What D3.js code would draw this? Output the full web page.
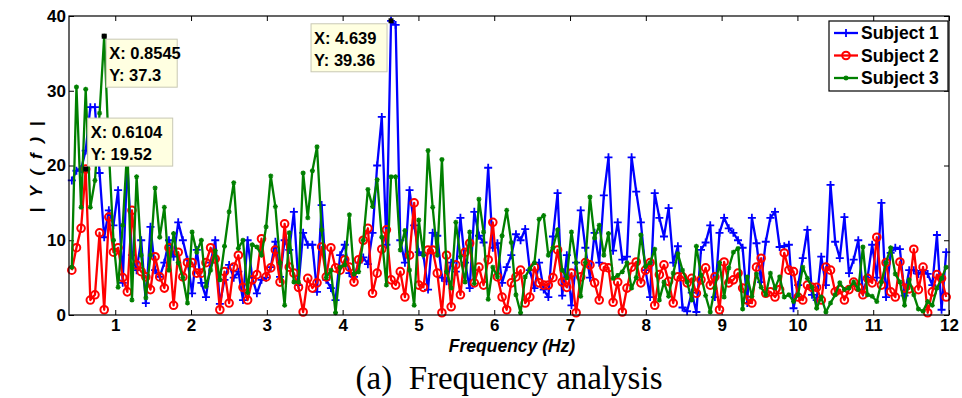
<!DOCTYPE html>
<html>
<head>
<meta charset="utf-8">
<script src="https://cdn.jsdelivr.net/npm/d3@7"></script>
<style>
  body { margin: 0; background: #fff; }
  svg text { font-family: "Liberation Sans", Arial, sans-serif; }
</style>
</head>
<body>
<div class="chart"></div>
<script>
// FFT bins: frequency = (firstBin + i) * binWidth
const binWidth = 0.0610352;
const firstBin = 7;

const seriesNames = ['Subject 1', 'Subject 2', 'Subject 3'];

const subject1 = [
  18, 19.3, 19.5, 22, 27.8, 27.8, 19, 10.4, 14, 12, 16.7, 4.3, 20.5, 8, 6, 10,
  1.6, 11.8, 6, 5.1, 7, 10, 7.8, 12.4, 10, 7.4, 2.9, 8.7, 4.3, 2.4, 7, 10,
  1.5, 4.7, 6.7, 5, 5.8, 2, 10, 5, 2.9, 4.7, 5, 6.4, 9.8, 5.1, 10, 8.7,
  13.8, 4, 11, 9.4, 9.4, 3.1, 14.7, 4.7, 3.6, 2, 8, 9.4, 5.6, 5.1, 7, 7.7,
  6.8, 11, 20, 26.5, 9.4, 39.36, 38.8, 10, 7, 16.7, 12, 8.4, 8, 3.4, 11, 10.6,
  5, 4.5, 7, 5.8, 13, 7, 3.6, 13.8, 10.6, 9.7, 19.7, 9, 9.6, 4.3, 6.4, 8,
  10.8, 10, 11.5, 6, 3.6, 7, 3.4, 2.4, 10.5, 16.3, 2.6, 8, 1.3, 7, 14, 9,
  5, 11, 7, 16, 21.1, 8.6, 12.4, 7.4, 7.8, 21.1, 16.5, 12.4, 6, 2.4, 16.3, 13,
  10.5, 14.3, 7, 9.2, 1, 0.5, 3, 0.4, 8.7, 9.7, 12, 2.4, 11, 13, 11.6, 11,
  10, 9, 1.6, 13, 9.6, 4.4, 9.8, 13, 13.8, 9.1, 9.2, 9.4, 0.9, 4, 7.6, 11.4,
  2.7, 2, 7.8, 4, 17.4, 9.8, 7.6, 13.1, 5.6, 7.4, 10, 3, 5, 9.4, 5, 15,
  2.4, 8.3, 9, 8.8, 2.6, 6, 6, 5.5, 6, 5.5, 4, 10.7, 0.7, 8.4
];

const subject2 = [
  6, 9, 11.6, 19.52, 2, 2.7, 11, 0.7, 13.1, 8.4, 9, 5, 3.1, 14, 6.7, 5.8,
  5.1, 3.4, 7.8, 5.1, 3.6, 9, 1.3, 8.4, 5.1, 7, 7, 5.6, 5.6, 7, 9, 7.5,
  0.7, 5.8, 1.6, 6.4, 8, 3.7, 2, 4.7, 5.4, 10.2, 5.1, 6.3, 8.7, 4.4, 12.2, 6.4,
  5.6, 3.7, 0.4, 4.9, 3.6, 4.3, 9.1, 5.1, 9, 6.3, 6, 7.4, 6.4, 4.4, 7.4, 10,
  11.6, 2.9, 5.6, 8.8, 11.4, 4.7, 4, 5.8, 2.4, 8, 15, 4, 3.7, 8.7, 8.7, 5.6,
  0.3, 8, 1.1, 6.7, 2.7, 8.4, 9.6, 4.3, 6.4, 4, 7.4, 12.4, 5.1, 2.4, 0.7, 4.3,
  5.1, 6, 1.6, 2.4, 6.4, 4.3, 4, 4, 5, 8.7, 4.4, 3.7, 5.6, 0.3, 5.1, 7,
  6.7, 4.3, 2, 6.4, 6.3, 1.7, 4.4, 0.4, 3.6, 6.4, 7.1, 4.3, 6, 7, 1.3, 5.4,
  6.7, 4.5, 1.6, 5.1, 5.1, 4.3, 4.9, 2.9, 4.7, 6.3, 4, 5.1, 0.7, 7.1, 4.3, 4.7,
  5.6, 3.6, 2, 1.6, 6.4, 7.6, 2.9, 3.1, 2.4, 3.4, 8.3, 6, 5.8, 2.4, 2, 4,
  3.7, 3.7, 2, 6.4, 6, 3.1, 3.4, 2, 3.4, 4.4, 3.7, 2.7, 4.9, 4.3, 10.4, 4,
  7, 3.1, 2.4, 7.1, 3.6, 3.5, 8.8, 3.4, 6.4, 0.3, 3.1, 5.4, 4.9, 2.4
];

const subject3 = [
  6.4, 30.5, 14.4, 30.2, 14.4, 18, 27, 37.3, 22, 10, 3.7, 12, 22.5, 2, 18.5, 8,
  2.3, 8, 17, 10.4, 14.4, 6, 10.9, 7, 5, 1.6, 11.1, 8.4, 10, 3.8, 6, 8.6,
  4.7, 9.2, 13.8, 17.7, 8.9, 10, 3, 9.4, 9.1, 8, 11.8, 18.6, 14.5, 7, 1.3, 11,
  4.4, 4.4, 19, 13, 19.3, 22.5, 11.4, 5, 6, 0.3, 6.4, 6.7, 13.4, 5.5, 5.8, 10,
  16.8, 14.5, 18.1, 10.4, 4, 18.5, 18.5, 8.7, 11.3, 6, 1.3, 12.7, 8, 22, 14.4, 8,
  20.8, 5.8, 3.6, 12.4, 7.8, 4.4, 11.1, 4.2, 15.5, 11.1, 2.1, 6.4, 5.1, 10.6, 14, 9.7,
  2.7, 0.3, 5.1, 6.2, 7, 12.8, 13.3, 8, 9, 11.4, 6, 5, 11.1, 7, 2.5, 7,
  15.8, 10.3, 12, 8, 10.9, 4.9, 5.3, 5.8, 7, 3.6, 5, 10.7, 6.5, 7, 8.8, 2,
  4.4, 2.5, 5.6, 8.2, 6, 4.4, 2, 9.2, 5.3, 2.6, 0.4, 3.6, 7, 2.4, 6.3, 8.4,
  8.9, 0.8, 5.1, 2.5, 5.5, 3.7, 2.7, 5.6, 3.6, 5.1, 2.4, 2.7, 1.8, 2.7, 6.4, 4.9,
  3.7, 0.9, 2.4, 0.4, 1.6, 2.7, 4.3, 3.4, 3.6, 4.4, 3.4, 9.1, 2.7, 2.5, 1.8, 4.4,
  7, 9, 5.5, 4.4, 1.3, 4.7, 2.7, 0.8, 0.5, 1.8, 1.3, 3.6, 4.9, 6.4
];

const xTicks = [1, 2, 3, 4, 5, 6, 7, 8, 9, 10, 11, 12];
const yTicks = [0, 10, 20, 30, 40];

// data tips: which point they mark and the text they show
const dataTips = [
  {series: 1, index: 3, xText: '0.6104', yText: '19.52'},
  {series: 2, index: 7, xText: '0.8545', yText: '37.3'},
  {series: 0, index: 69, xText: '4.639', yText: '39.36'},
];

const colors = ['#0000ff', '#ff0000', '#008000'];

const W = 962, H = 398;
const margin = {top: 16, right: 13, bottom: 83, left: 69};
const width = W - margin.left - margin.right;
const height = H - margin.top - margin.bottom;

const svg = d3.select('.chart')
  .append('svg')
  .attr('width', W)
  .attr('height', H);

const g = svg.append('g')
  .attr('transform', `translate(${margin.left}, ${margin.top})`);

const xScale = d3.scaleLinear().domain([0.39, 12]).range([0, width]);
const yScale = d3.scaleLinear().domain([0, 40]).range([height, 0]);

const allSeries = [subject1, subject2, subject3].map(vals =>
  vals.map((v, i) => ({f: (firstBin + i) * binWidth, v})));

// axes (MATLAB style: ticks inside, box on)
g.append('g')
  .attr('transform', `translate(0, ${height})`)
  .call(d3.axisBottom(xScale).tickValues(xTicks).tickSizeInner(-5).tickSizeOuter(0).tickPadding(4))
  .call(a => a.select('.domain').remove());
g.append('g')
  .call(d3.axisTop(xScale).tickValues(xTicks).tickSizeInner(-5).tickSizeOuter(0).tickFormat(''))
  .call(a => a.select('.domain').remove());
g.append('g')
  .call(d3.axisLeft(yScale).tickValues(yTicks).tickSizeInner(-5).tickSizeOuter(0).tickPadding(3))
  .call(a => a.select('.domain').remove());
g.append('g')
  .attr('transform', `translate(${width}, 0)`)
  .call(d3.axisRight(yScale).tickValues(yTicks).tickSizeInner(-5).tickSizeOuter(0).tickFormat(''))
  .call(a => a.select('.domain').remove());

g.selectAll('.tick line').attr('stroke', '#000').attr('stroke-width', 1);
g.selectAll('.tick text')
  .attr('fill', '#000')
  .style('font-size', '17px')
  .style('font-weight', 'bold')
  .style('font-family', '"Liberation Sans", Arial, sans-serif');

// series
const line = d3.line()
  .x(d => xScale(d.f))
  .y(d => yScale(d.v));

const plot = g.append('g');

allSeries.forEach((data, s) => {
  plot.append('path')
    .datum(data)
    .attr('d', line)
    .attr('fill', 'none')
    .attr('stroke', colors[s])
    .attr('stroke-width', 2.3)
    .attr('stroke-linejoin', 'round');

  const pts = plot.append('g').selectAll('g')
    .data(data)
    .enter()
    .append('g')
    .attr('transform', d => `translate(${xScale(d.f)}, ${yScale(d.v)})`);
  drawMarker(pts, s, colors[s]);
});

function drawMarker(sel, s, c) {
  if (s === 0) {
    sel.append('path').attr('d', 'M-4,0H4M0,-4V4')
      .attr('stroke', c).attr('stroke-width', 1.8);
  } else if (s === 1) {
    sel.append('circle').attr('r', 3.8)
      .attr('fill', 'none').attr('stroke', c).attr('stroke-width', 2);
  } else {
    sel.append('path').attr('d', 'M-2.5,0H2.5M0,-2.5V2.5M-1.8,-1.8L1.8,1.8M-1.8,1.8L1.8,-1.8')
      .attr('stroke', c).attr('stroke-width', 1.3);
  }
}

// box
g.append('rect')
  .attr('width', width).attr('height', height)
  .attr('fill', 'none').attr('stroke', '#000').attr('stroke-width', 1.2);

// data tips
const tipBoxes = [
  {dx: 2, dy: -51, w: 85},
  {dx: 2, dy: 3, w: 71},
  {dx: -80, dy: 3, w: 76},
];
dataTips.forEach((t, k) => {
  const d = allSeries[t.series][t.index];
  const px = xScale(d.f), py = yScale(d.v);
  const b = tipBoxes[k];
  const tg = g.append('g').attr('transform', `translate(${px + b.dx}, ${py + b.dy})`);
  tg.append('rect')
    .attr('width', b.w).attr('height', 48)
    .attr('fill', '#ffffe1').attr('stroke', '#c8c8b4').attr('stroke-width', 1);
  tg.append('text').attr('x', 3).attr('y', 20)
    .style('font-size', '16.5px').style('font-weight', 'bold')
    .text('X: ' + t.xText);
  tg.append('text').attr('x', 3).attr('y', 42)
    .style('font-size', '16.5px').style('font-weight', 'bold')
    .text('Y: ' + t.yText);
  g.append('rect')
    .attr('x', px - 2.5).attr('y', py - 2.5)
    .attr('width', 5).attr('height', 5)
    .attr('fill', '#000');
});

// legend
const legend = g.append('g').attr('transform', `translate(${width - 120}, 5)`);
legend.append('rect')
  .attr('width', 119).attr('height', 70)
  .attr('fill', '#fff').attr('stroke', '#000').attr('stroke-width', 1.2);
seriesNames.forEach((name, s) => {
  const ly = 12 + s * 22.5;
  const lg = legend.append('g').attr('transform', `translate(0, ${ly})`);
  lg.append('line').attr('x1', 5).attr('x2', 29).attr('y1', 0).attr('y2', 0)
    .attr('stroke', colors[s]).attr('stroke-width', 2.3);
  drawMarker(lg.append('g').attr('transform', 'translate(17, 0)'), s, colors[s]);
  lg.append('text').attr('x', 32).attr('y', 6)
    .style('font-size', '17.5px').style('font-weight', 'bold')
    .text(name);
});

// labels
svg.append('text')
  .attr('transform', `translate(42, ${margin.top + height / 2}) rotate(-90)`)
  .attr('text-anchor', 'middle')
  .style('font-size', '17px').style('font-weight', 'bold').style('font-style', 'italic')
  .style('letter-spacing', '3px')
  .text('| Y ( f ) |');

svg.append('text')
  .attr('x', margin.left + width / 2 + 3).attr('y', 352)
  .attr('text-anchor', 'middle')
  .style('font-size', '17.5px').style('font-weight', 'bold').style('font-style', 'italic')
  .text('Frequency (Hz)');

svg.append('text')
  .attr('x', margin.left + width / 2).attr('y', 389)
  .attr('text-anchor', 'middle')
  .attr('xml:space', 'preserve')
  .style('white-space', 'pre')
  .style('font-family', '"Liberation Serif", "Times New Roman", serif')
  .style('font-size', '33px')
  .text('(a)  Frequency analysis');
</script>
</body>
</html>
